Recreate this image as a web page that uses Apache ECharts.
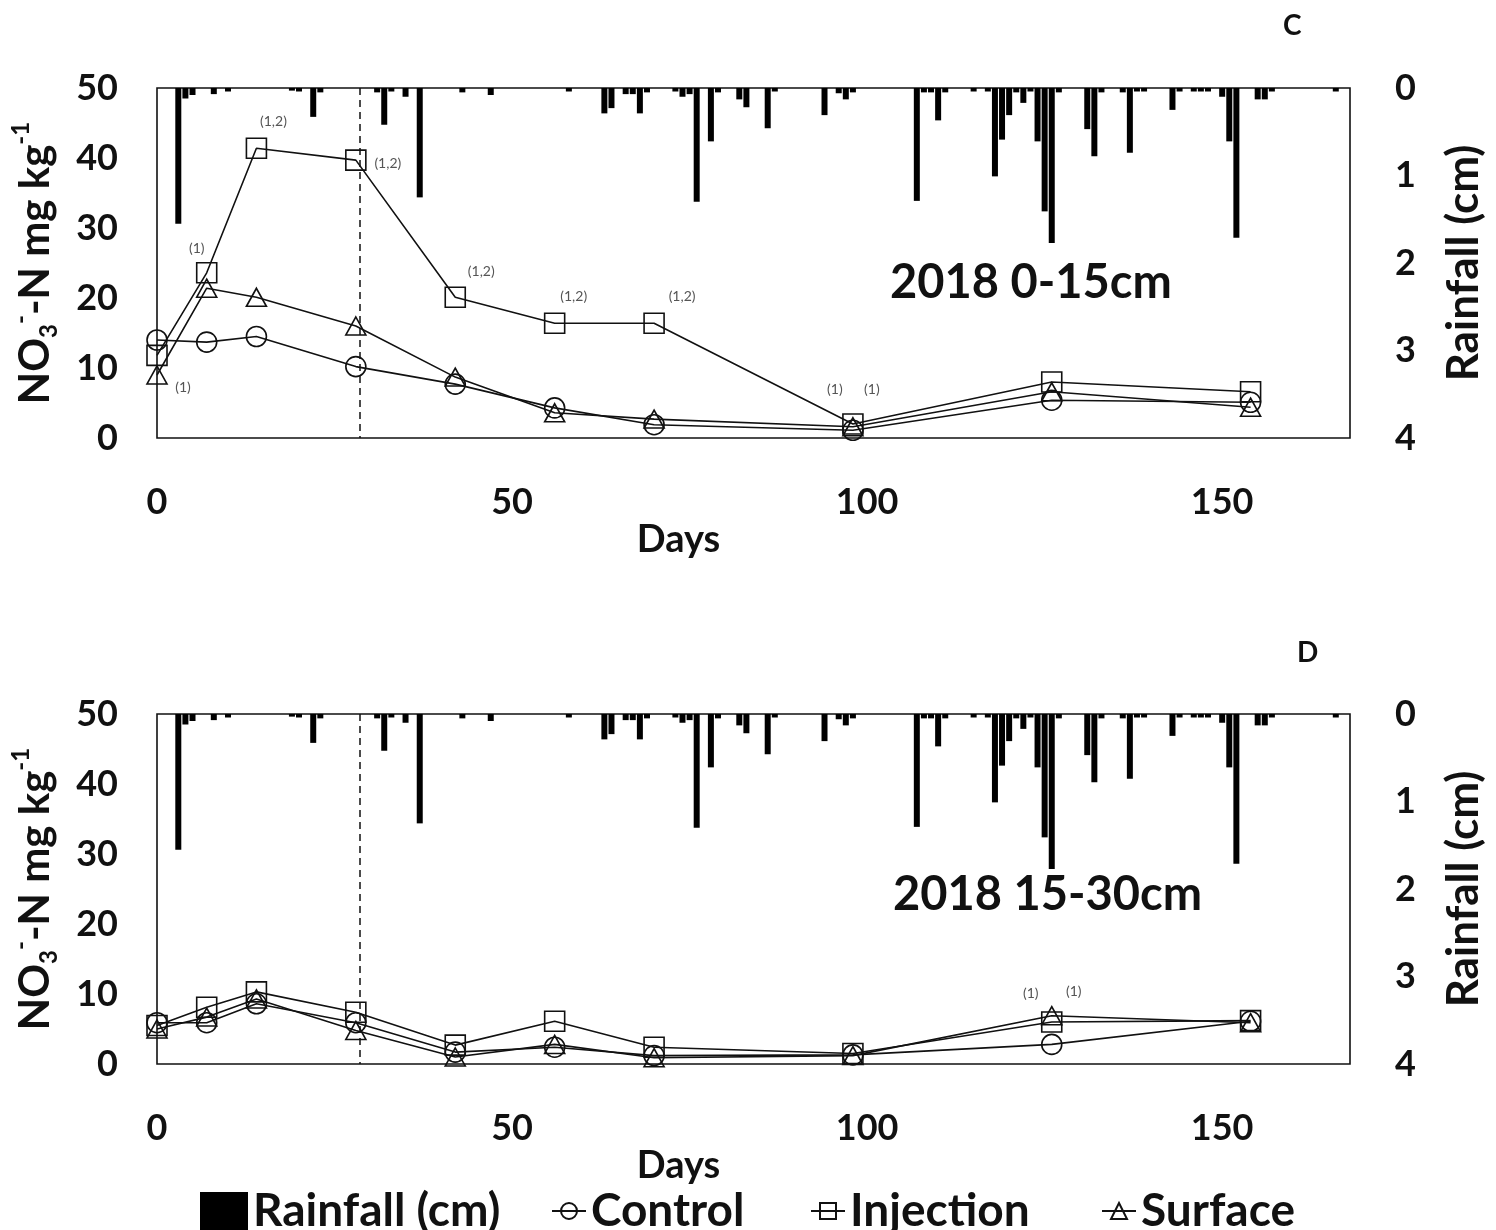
<!DOCTYPE html>
<html>
<head>
<meta charset="utf-8">
<script src="https://cdn.jsdelivr.net/npm/echarts@6/dist/echarts.min.js"></script>
<style>
html,body{margin:0;padding:0;background:#fff;}
#chart{width:1496px;height:1230px;}
</style>
</head>
<body>
<div id="chart"></div>
<script>
// ---------------- DATA ----------------
const days = [0, 7, 14, 28, 42, 56, 70, 98, 126, 154];

// 2018 0-15 cm
const top_control   = [14.0, 13.7, 14.5, 10.2, 7.7, 4.3, 1.9, 1.1, 5.4, 5.1];
const top_injection = [11.8, 23.6, 41.4, 39.7, 20.1, 16.4, 16.4, 2.0, 8.0, 6.6];
const top_surface   = [9.0, 21.4, 20.1, 16.0, 8.7, 3.6, 2.7, 1.6, 6.6, 4.4];

// 2018 15-30 cm
const bot_control   = [5.9, 5.9, 8.6, 5.9, 1.7, 2.4, 1.2, 1.3, 2.8, 6.1];
const bot_injection = [5.5, 8.1, 10.3, 7.4, 2.7, 6.1, 2.4, 1.5, 6.0, 6.2];
const bot_surface   = [5.0, 6.7, 9.3, 4.8, 1.0, 2.8, 0.9, 1.2, 6.9, 5.9];

// significance annotations
const top_injLabels = ['', '(1)', '(1,2)', '(1,2)', '(1,2)', '(1,2)', '(1,2)', '(1)', '', ''];
const top_surLabels = ['(1)', '', '', '', '', '', '', '(1)', '', ''];
const bot_injLabels = ['', '', '', '', '', '', '', '', '(1)', ''];
const bot_surLabels = ['', '', '', '', '', '', '', '', '(1)', ''];

// daily rainfall (cm)
const rainDays = [3,4,5,8,10,19,20,22,23,31,32,33,35,37,43,47,58,63,64,66,67,68,69,73,74,75,76,78,79,82,83,86,87,94,96,97,98,107,108,109,110,111,115,117,118,119,120,121,122,123,124,125,126,127,131,132,133,136,137,138,139,143,144,146,147,148,150,151,152,155,156,157,166];
const rainCm   = [1.55,0.12,0.08,0.07,0.04,0.03,0.04,0.33,0.05,0.05,0.42,0.04,0.10,1.25,0.05,0.08,0.04,0.29,0.23,0.07,0.07,0.29,0.05,0.04,0.10,0.07,1.30,0.61,0.05,0.13,0.22,0.46,0.04,0.31,0.06,0.13,0.05,1.29,0.05,0.05,0.37,0.05,0.04,0.04,1.01,0.59,0.31,0.05,0.17,0.04,0.61,1.41,1.77,0.05,0.47,0.78,0.05,0.05,0.74,0.04,0.04,0.25,0.04,0.04,0.04,0.04,0.10,0.61,1.71,0.13,0.13,0.04,0.04];

const applicationDay = 28.5;      // dashed reference line
const xTickLabels = ['0', '50', '100', '150'];
const panelTitles = ['2018 0-15cm', '2018 15-30cm'];
const panelLetters = ['C', 'D'];

// ---------------- STYLE / LAYOUT ----------------
const FONT = 'Lato, "Open Sans", sans-serif';
const INK = '#111';
const grids = [
  {left: 157, top: 88, width: 1193, height: 350},
  {left: 157, top: 714, width: 1193, height: 350}
];
const labelOffsets = {
  top_inj: [null, [-10,-24], [17,-27], [32,3], [26,-26], [19,-27], [28,-27], [-18,-35], null, null],
  top_sur: [[26,12], null, null, null, null, null, null, [19,-37], null, null],
  bot_inj: [null, null, null, null, null, null, null, null, [-21,-29], null],
  bot_sur: [null, null, null, null, null, null, null, null, [22,-24], null]
};

function lineSeries(name, values, symbol, g, labels, offsets) {
  return {
    type: 'line', name: name, xAxisIndex: g, yAxisIndex: g * 2,
    symbol: symbol, symbolSize: symbol === 'triangle' ? [20, 18] : 20,
    itemStyle: {color: 'rgba(255,255,255,0)', borderColor: INK, borderWidth: 1.6},
    lineStyle: {color: INK, width: 1.6},
    z: 4, animation: false,
    data: values.map(function (v, i) {
      const item = {value: [days[i], v]};
      if (labels && labels[i]) {
        item.label = {
          show: true, formatter: labels[i], position: 'inside', offset: offsets[i],
          color: '#555', fontSize: 14, fontFamily: FONT
        };
      }
      return item;
    })
  };
}

function rainSeries(g) {
  return {
    type: 'bar', name: 'Rainfall (cm)', xAxisIndex: g, yAxisIndex: g * 2 + 1,
    barWidth: 6, itemStyle: {color: '#000'}, z: 2, animation: false,
    data: rainDays.map(function (d, i) { return [d, rainCm[i]]; }),
    markLine: {
      silent: true, symbol: ['none', 'none'], label: {show: false},
      lineStyle: {color: INK, type: [7, 5], width: 1.5},
      data: [{xAxis: applicationDay}]
    }
  };
}

const xAxes = grids.map(function (gr, g) {
  return {
    type: 'value', gridIndex: g, min: 0, max: 168, interval: 50,
    name: 'Days', nameLocation: 'middle', nameGap: 82,
    nameTextStyle: {fontFamily: FONT, fontWeight: 'bold', fontSize: 38, color: INK, padding: [0, 150, 0, 0]},
    axisLine: {show: false}, axisTick: {show: false}, splitLine: {show: false},
    axisLabel: {
      margin: 46, fontFamily: FONT, fontWeight: 'bold', fontSize: 36, color: INK,
      formatter: function (v) { return xTickLabels.indexOf(String(v)) >= 0 ? String(v) : ''; }
    }
  };
});

const nameRich = {
  a: {fontFamily: FONT, fontWeight: 'bold', fontSize: 42, color: INK, lineHeight: 52},
  sub: {fontFamily: FONT, fontWeight: 'bold', fontSize: 24, color: INK, lineHeight: 52, verticalAlign: 'bottom', padding: [16, 0, 0, 0]},
  sup: {fontFamily: FONT, fontWeight: 'bold', fontSize: 24, color: INK, lineHeight: 52, verticalAlign: 'top', padding: [0, 0, 16, 0]}
};

const yAxes = [];
grids.forEach(function (gr, g) {
  yAxes.push({
    type: 'value', gridIndex: g, position: 'left', min: 0, max: 50, interval: 10,
    name: '{a|NO}{sub|3}{sup|-}{a|-N mg kg}{sup|-1}', nameLocation: 'middle', nameGap: 96, nameRotate: 90,
    nameTextStyle: {rich: nameRich},
    axisLine: {show: false}, axisTick: {show: false}, splitLine: {show: false},
    axisLabel: {margin: 39, fontFamily: FONT, fontWeight: 'bold', fontSize: 36, color: INK}
  });
  yAxes.push({
    type: 'value', gridIndex: g, position: 'right', min: 0, max: 4, interval: 1, inverse: true,
    name: 'Rainfall (cm)', nameLocation: 'middle', nameGap: 92, nameRotate: 90,
    nameTextStyle: {fontFamily: FONT, fontWeight: 'bold', fontSize: 44, color: INK},
    axisLine: {show: false}, axisTick: {show: false}, splitLine: {show: false},
    axisLabel: {margin: 45, fontFamily: FONT, fontWeight: 'bold', fontSize: 36, color: INK}
  });
});

const series = [
  rainSeries(0), rainSeries(1),
  lineSeries('Control', top_control, 'circle', 0),
  lineSeries('Injection', top_injection, 'rect', 0, top_injLabels, labelOffsets.top_inj),
  lineSeries('Surface', top_surface, 'triangle', 0, top_surLabels, labelOffsets.top_sur),
  lineSeries('Control', bot_control, 'circle', 1),
  lineSeries('Injection', bot_injection, 'rect', 1, bot_injLabels, labelOffsets.bot_inj),
  lineSeries('Surface', bot_surface, 'triangle', 1, bot_surLabels, labelOffsets.bot_sur)
];

const titleGraphics = [
  {type: 'text', left: 890, top: 259, style: {text: panelTitles[0], font: 'bold 47px ' + FONT, fill: INK}},
  {type: 'text', left: 893, top: 871, style: {text: panelTitles[1], font: 'bold 47px ' + FONT, fill: INK}},
  {type: 'text', left: 1283, top: 12, style: {text: panelLetters[0], font: 'bold 28px ' + FONT, fill: INK}},
  {type: 'text', left: 1297, top: 639, style: {text: panelLetters[1], font: 'bold 28px ' + FONT, fill: INK}}
];

const legendText = {fontFamily: FONT, fontWeight: 'bold', fontSize: 46, color: INK};

function legendItem(name, left, icon, w, h) {
  const d = {name: name};
  if (icon) d.icon = icon;
  return {
    data: [d], left: left, top: 1183, itemWidth: w, itemHeight: h,
    textStyle: legendText, selectedMode: false
  };
}

const option = {
  backgroundColor: '#fff',
  animation: false,
  grid: grids.map(function (gr) {
    return Object.assign({show: true, borderColor: INK, borderWidth: 1.6, backgroundColor: 'transparent', containLabel: false}, gr);
  }),
  xAxis: xAxes,
  yAxis: yAxes,
  legend: [
    legendItem('Rainfall (cm)', 195, 'rect', 48, 38),
    legendItem('Control', 546, null, 34, 20),
    legendItem('Injection', 805, null, 34, 20),
    legendItem('Surface', 1096, null, 34, 20)
  ],
  graphic: titleGraphics,
  series: series
};

const chart = echarts.init(document.getElementById('chart'), null, {renderer: 'canvas'});
chart.setOption(option);
</script>
</body>
</html>
